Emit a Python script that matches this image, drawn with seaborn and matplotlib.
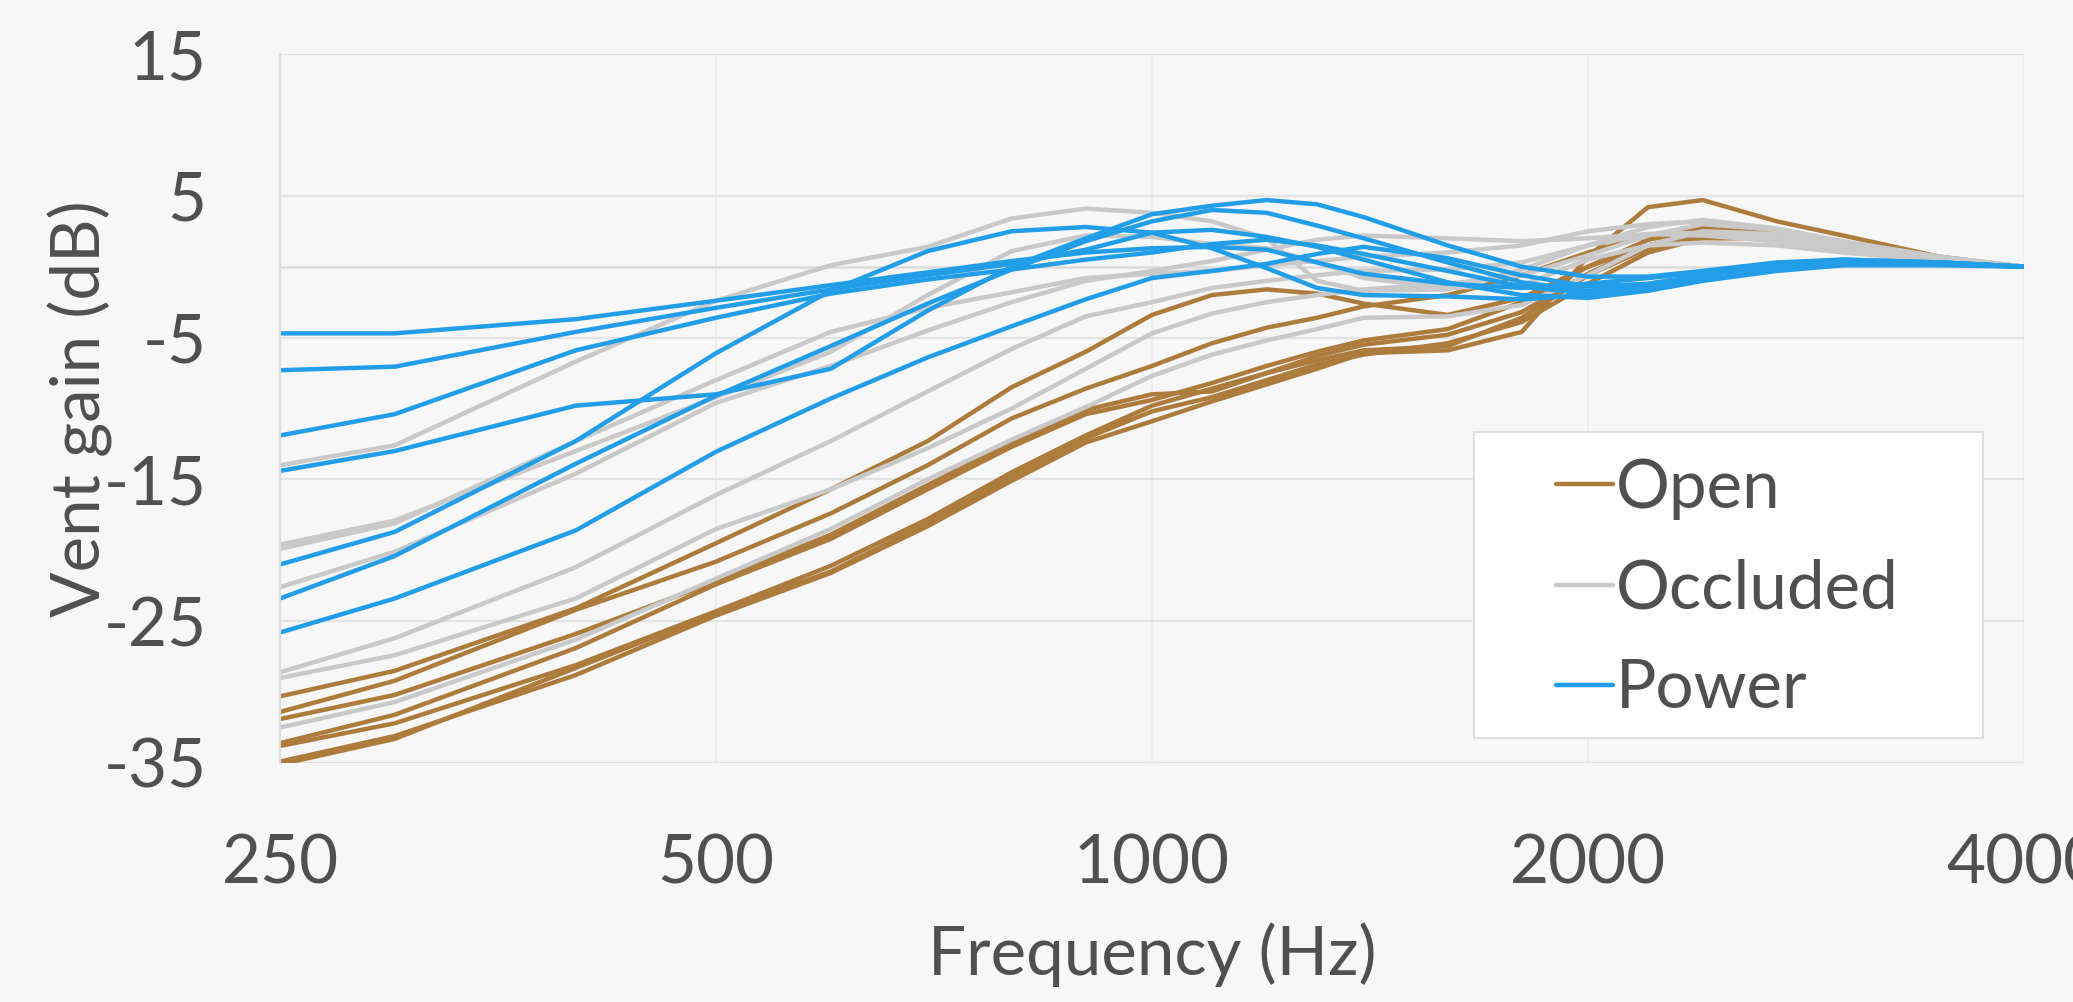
import numpy as np
import pandas as pd
import matplotlib
matplotlib.use('Agg')
import matplotlib.pyplot as plt
import seaborn as sns
from matplotlib.lines import Line2D
from matplotlib.patches import Rectangle
from matplotlib.ticker import FixedLocator, FixedFormatter, NullLocator

freq = [250, 300, 400, 500, 600, 700, 800, 900, 1000, 1100, 1200, 1300, 1400, 1600, 1800, 2000, 2200, 2400, 2700, 3000, 3500, 4000]

open_1 = [-30.3, -28.5, -24.1, -19.5, -15.7, -12.3, -8.5, -6.0, -3.4, -2.0, -1.6, -1.9, -2.6, -3.4, -2.2, 0.0, 1.5, 2.3, 2.0, 1.3, 0.5, 0.0]
open_2 = [-31.4, -29.2, -24.2, -20.8, -17.4, -14.0, -10.7, -8.6, -7.0, -5.4, -4.3, -3.6, -2.8, -2.0, -0.6, 1.0, 2.2, 2.8, 2.3, 1.5, 0.6, 0.0]
open_3 = [-31.9, -30.2, -25.9, -22.2, -18.9, -15.4, -12.4, -10.1, -9.0, -8.8, -7.5, -6.3, -5.5, -4.8, -3.2, -0.5, 1.5, 2.4, 2.1, 1.4, 0.5, 0.0]
open_4 = [-33.6, -31.6, -26.9, -22.4, -19.2, -15.7, -12.7, -10.4, -9.4, -8.2, -7.0, -6.0, -5.2, -4.4, -2.5, 0.0, 1.9, 2.6, 2.2, 1.4, 0.5, 0.0]
open_5 = [-33.8, -32.2, -28.1, -24.3, -21.1, -17.8, -14.5, -11.9, -9.8, -8.6, -7.5, -6.6, -5.9, -5.6, -3.6, -0.6, 1.3, 2.1, 2.0, 1.3, 0.5, 0.0]
open_6 = [-34.9, -33.1, -28.8, -24.6, -21.6, -18.3, -15.1, -12.4, -10.9, -9.5, -8.3, -7.2, -6.1, -5.9, -4.6, 0.7, 4.2, 4.7, 3.2, 2.2, 0.7, 0.0]
open_7 = [-35.1, -33.3, -28.3, -24.4, -21.5, -18.1, -14.8, -12.1, -10.2, -9.2, -8.0, -6.9, -6.2, -5.4, -3.9, -1.2, 1.0, 2.0, 2.0, 1.3, 0.5, 0.0]

occl_1 = [-14.0, -12.6, -6.7, -2.4, 0.1, 1.4, 3.4, 4.1, 3.8, 3.2, 2.0, -1.0, -1.7, -1.6, -0.2, 1.5, 2.3, 2.2, 1.8, 1.2, 0.5, 0.0]
occl_2 = [-19.6, -17.9, -13.0, -9.2, -6.0, -2.0, 1.1, 2.2, 2.1, 1.6, 1.3, 0.3, -0.8, -1.5, -1.3, 0.5, 1.5, 1.7, 1.5, 1.0, 0.4, 0.0]
occl_3 = [-19.9, -18.1, -12.3, -8.0, -4.6, -2.9, -1.8, -0.8, -0.5, -0.3, 0.1, 0.4, 0.7, 1.0, 1.5, 2.5, 3.0, 3.2, 2.6, 1.7, 0.6, 0.0]
occl_4 = [-22.6, -20.1, -14.6, -9.6, -7.0, -4.5, -2.5, -1.0, -0.3, 0.4, 1.2, 1.9, 2.2, 2.0, 1.8, 2.0, 2.3, 2.4, 2.0, 1.3, 0.5, 0.0]
occl_5 = [-28.6, -26.2, -21.2, -16.1, -12.3, -8.8, -5.8, -3.5, -2.5, -1.5, -1.0, -0.6, -0.3, -0.2, 0.3, 1.5, 2.8, 3.3, 2.7, 1.8, 0.7, 0.0]
occl_6 = [-29.0, -27.4, -23.4, -18.5, -15.7, -12.8, -10.0, -7.2, -4.7, -3.3, -2.5, -2.0, -1.6, -1.2, -0.6, 0.8, 2.2, 3.0, 2.6, 1.7, 0.7, 0.0]
occl_7 = [-32.5, -30.7, -26.3, -22.0, -18.5, -15.0, -12.2, -9.9, -7.7, -6.2, -5.2, -4.4, -3.6, -3.5, -2.7, -0.6, 1.5, 2.5, 2.3, 1.5, 0.6, 0.0]

power_1 = [-4.7, -4.7, -3.7, -2.4, -1.3, -0.4, 0.4, 1.0, 1.3, 1.4, 1.2, 0.3, -0.5, -1.2, -1.5, -1.2, -0.8, -0.4, 0.1, 0.3, 0.2, 0.0]
power_2 = [-7.3, -7.05, -4.6, -2.9, -1.6, -0.6, 0.2, 1.2, 2.4, 2.6, 2.1, 1.4, 0.5, -1.1, -2.0, -2.2, -1.7, -1.0, -0.3, 0.1, 0.1, 0.0]
power_3 = [-11.9, -10.4, -5.9, -3.6, -1.9, -0.9, -0.2, 0.5, 1.0, 1.6, 1.9, 1.5, 0.9, -0.3, -1.4, -1.9, -1.5, -0.9, -0.2, 0.2, 0.2, 0.0]
power_4 = [-14.4, -13.0, -9.8, -9.0, -7.2, -3.1, 0.0, 2.0, 3.7, 4.3, 4.7, 4.4, 3.5, 1.5, 0.0, -0.7, -0.7, -0.3, 0.3, 0.5, 0.3, 0.0]
power_5 = [-21.0, -18.7, -12.3, -6.1, -1.7, 1.1, 2.5, 2.8, 2.4, 1.3, -0.1, -1.5, -2.0, -2.1, -2.3, -2.0, -1.3, -0.6, 0.1, 0.4, 0.3, 0.0]
power_6 = [-23.4, -20.4, -13.9, -9.1, -5.6, -2.6, -0.2, 1.8, 3.2, 4.0, 3.8, 2.9, 2.0, 0.3, -1.1, -1.7, -1.3, -0.6, 0.2, 0.5, 0.3, 0.0]
power_7 = [-25.8, -23.4, -18.6, -13.05, -9.3, -6.4, -4.2, -2.3, -0.8, -0.3, 0.2, 0.9, 1.4, 0.6, -0.6, -1.4, -1.2, -0.6, 0.1, 0.4, 0.3, 0.0]

curves = {
    'Open': [open_1, open_2, open_3, open_4, open_5, open_6, open_7],
    'Occluded': [occl_1, occl_2, occl_3, occl_4, occl_5, occl_6, occl_7],
    'Power': [power_1, power_2, power_3, power_4, power_5, power_6, power_7],
}
colors = {'Open': '#ad7b3c', 'Occluded': '#c9c9c9', 'Power': '#229ee8'}

rows = []
for cond, lst in curves.items():
    for i, vals in enumerate(lst):
        for f, v in zip(freq, vals):
            rows.append((cond, cond + str(i), f, v))
df = pd.DataFrame(rows, columns=['condition', 'curve', 'freq', 'gain'])

sns.set_theme(style='white')
txt = '#505050'
fs = 48.5
plt.rcParams['font.family'] = ['Lato', 'DejaVu Sans']
plt.rcParams['axes.unicode_minus'] = False
plt.rcParams['text.color'] = txt
plt.rcParams['axes.labelcolor'] = txt
plt.rcParams['xtick.color'] = txt
plt.rcParams['ytick.color'] = txt

fig = plt.figure(figsize=(20.73, 10.02), dpi=100, facecolor='#f7f7f7')
ax = fig.add_axes([280 / 2073, 1 - 763 / 1002, (2024 - 280) / 2073, (763 - 54) / 1002])
ax.set_facecolor('#f7f7f7')

sns.lineplot(data=df, x='freq', y='gain', hue='condition', units='curve', estimator=None,
             palette=colors, hue_order=['Open', 'Occluded', 'Power'], lw=3.2, legend=False, ax=ax)

ax.set_xscale('log', base=2)
ax.set_xlim(250, 4000)
ax.set_ylim(-35, 15)
ax.xaxis.set_major_locator(FixedLocator([250, 500, 1000, 2000, 4000]))
ax.xaxis.set_major_formatter(FixedFormatter(['250', '500', '1000', '2000', '4000']))
ax.xaxis.set_minor_locator(NullLocator())
ax.set_yticks([15, 5, -5, -15, -25, -35])

ax.grid(True, axis='y', color='#e3e3e3', lw=1.6)
ax.grid(True, axis='x', color='#ececec', lw=1.2)
ax.axhline(0, color='#dcdcdc', lw=1.8, zorder=1)
for s in ['top', 'right', 'bottom']:
    ax.spines[s].set_visible(False)
ax.spines['left'].set_color('#dcdcdc')
ax.spines['left'].set_linewidth(1.6)

ax.tick_params(axis='x', length=0, pad=51, labelsize=fs)
ax.tick_params(axis='y', length=13, width=1.6, color='#e3e3e3', pad=40, labelsize=fs)

ax.set_xlabel('Frequency (Hz)', fontsize=fs)
ax.xaxis.set_label_coords(0.5, -0.225)
ax.set_ylabel('Vent gain (dB)', fontsize=fs)
ax.yaxis.set_label_coords(-0.096, 0.5)

box = Rectangle((1474 / 2073, 1 - 738 / 1002), 509 / 2073, 306 / 1002, transform=fig.transFigure,
                facecolor='white', edgecolor='#dedede', lw=1.5, zorder=4)
fig.patches.append(box)

handles = [Line2D([], [], color=colors[c], lw=3.2) for c in ['Open', 'Occluded', 'Power']]
leg = fig.legend(handles, ['Open', 'Occluded', 'Power'], loc='upper left',
                 bbox_to_anchor=(1522 / 2073, 1 - 424 / 1002), frameon=False, fontsize=fs,
                 handlelength=0.85, handletextpad=0.05, labelspacing=0.57, borderpad=0)
leg.set_zorder(5)

fig.savefig('out.png', dpi=100, facecolor=fig.get_facecolor())
